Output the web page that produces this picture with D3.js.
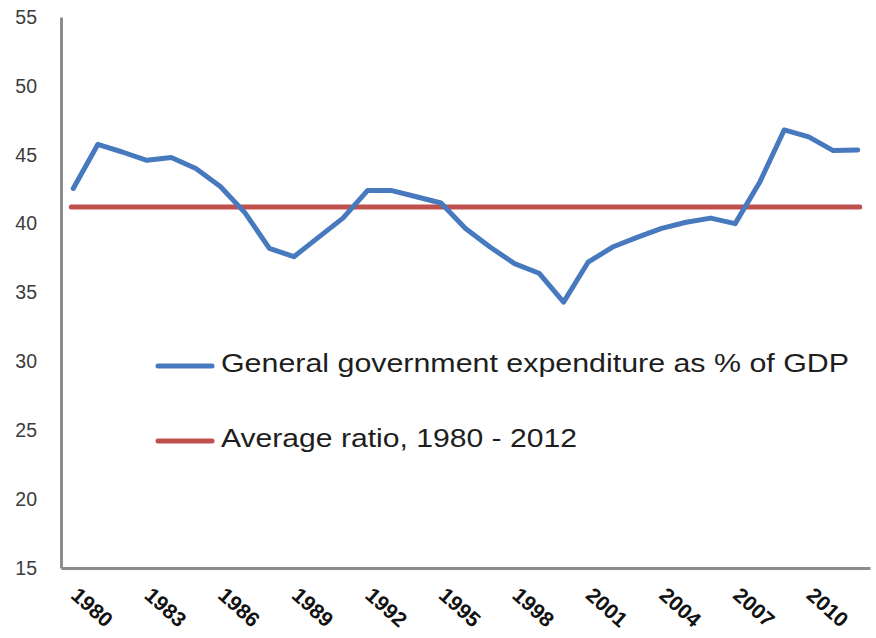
<!DOCTYPE html>
<html>
<head>
<meta charset="utf-8">
<script src="https://cdn.jsdelivr.net/npm/d3@7"></script>
<style>
  html, body { margin: 0; padding: 0; background: #ffffff; }
  svg { display: block; }
</style>
</head>
<body>
<svg id="chart" width="876" height="638"></svg>
<script>
// Fiscal years on the category axis
const years = d3.range(1980, 2013);

// General government expenditure, % of GDP
const expenditure = [
  42.55, 45.75, 45.2, 44.6, 44.8, 44.0, 42.7, 40.8, 38.2, 37.6,
  39.0, 40.4, 42.4, 42.4, 41.95, 41.5, 39.65, 38.3, 37.1, 36.4,
  34.3, 37.2, 38.3, 39.0, 39.65, 40.1, 40.4, 40.0, 43.0, 46.8,
  46.3, 45.3, 45.35
];

// Average ratio over 1980-2012
const averageRatio = [41.2];

// Axis ticks
const yTicks = [15, 20, 25, 30, 35, 40, 45, 50, 55];
const xTickYears = [1980, 1983, 1986, 1989, 1992, 1995, 1998, 2001, 2004, 2007, 2010];

// Legend entries
const legendLabels = [
  "General government expenditure as % of GDP",
  "Average ratio, 1980 - 2012"
];

const blue = "#4679bd";
const red = "#c0504d";
const axisGrey = "#8c8c8c";

const svg = d3.select("#chart");

const x = d3.scalePoint()
  .domain(years)
  .range([61, 870])
  .padding(0.5);

const y = d3.scaleLinear()
  .domain([15, 55])
  .range([568, 17]);

// Y axis
const yAxis = svg.append("g")
  .attr("transform", "translate(61,0)")
  .call(d3.axisLeft(y).tickValues(yTicks).tickSize(0).tickSizeOuter(0).tickPadding(24));
yAxis.select(".domain").attr("stroke", axisGrey).attr("stroke-width", 3);
yAxis.selectAll("text")
  .attr("font-family", "'Liberation Sans', Arial, sans-serif")
  .attr("font-size", 19.5)
  .attr("fill", "#3c3c3c");

// X axis
const xAxis = svg.append("g")
  .attr("transform", "translate(0,568)")
  .call(d3.axisBottom(x).tickValues(xTickYears).tickSize(0).tickSizeOuter(0));
xAxis.select(".domain").attr("stroke", axisGrey).attr("stroke-width", 3);
xAxis.selectAll("text")
  .attr("font-family", "'Liberation Sans', Arial, sans-serif")
  .attr("font-size", 21)
  .attr("font-weight", "bold")
  .attr("fill", "#111")
  .attr("text-anchor", "start")
  .attr("dy", null)
  .attr("y", null)
  .attr("textLength", 47)
  .attr("lengthAdjust", "spacingAndGlyphs")
  .attr("transform", "translate(-4,29) rotate(42)");

// Average ratio line
svg.append("line")
  .attr("x1", x(years[0]) - 2)
  .attr("x2", x(years[years.length - 1]) + 2)
  .attr("y1", y(averageRatio[0]))
  .attr("y2", y(averageRatio[0]))
  .attr("stroke", red)
  .attr("stroke-width", 5)
  .attr("stroke-linecap", "round");

// Expenditure line
const line = d3.line()
  .x((d, i) => x(years[i]))
  .y(d => y(d));

svg.append("path")
  .datum(expenditure)
  .attr("d", line)
  .attr("fill", "none")
  .attr("stroke", blue)
  .attr("stroke-width", 5)
  .attr("stroke-linejoin", "round")
  .attr("stroke-linecap", "round");

// Legend
const legendColors = [blue, red];
const legendY = [366, 441];
const legendWidths = [628, 356];
const legend = svg.append("g");
legendLabels.forEach((label, i) => {
  legend.append("line")
    .attr("x1", 158).attr("x2", 212)
    .attr("y1", legendY[i]).attr("y2", legendY[i])
    .attr("stroke", legendColors[i])
    .attr("stroke-width", 5)
    .attr("stroke-linecap", "round");
  legend.append("text")
    .attr("x", 221)
    .attr("y", legendY[i] + 6)
    .attr("font-family", "'Liberation Sans', Arial, sans-serif")
    .attr("font-size", 26)
    .attr("fill", "#1e1e1e")
    .attr("textLength", legendWidths[i])
    .attr("lengthAdjust", "spacingAndGlyphs")
    .text(label);
});
</script>
</body>
</html>
